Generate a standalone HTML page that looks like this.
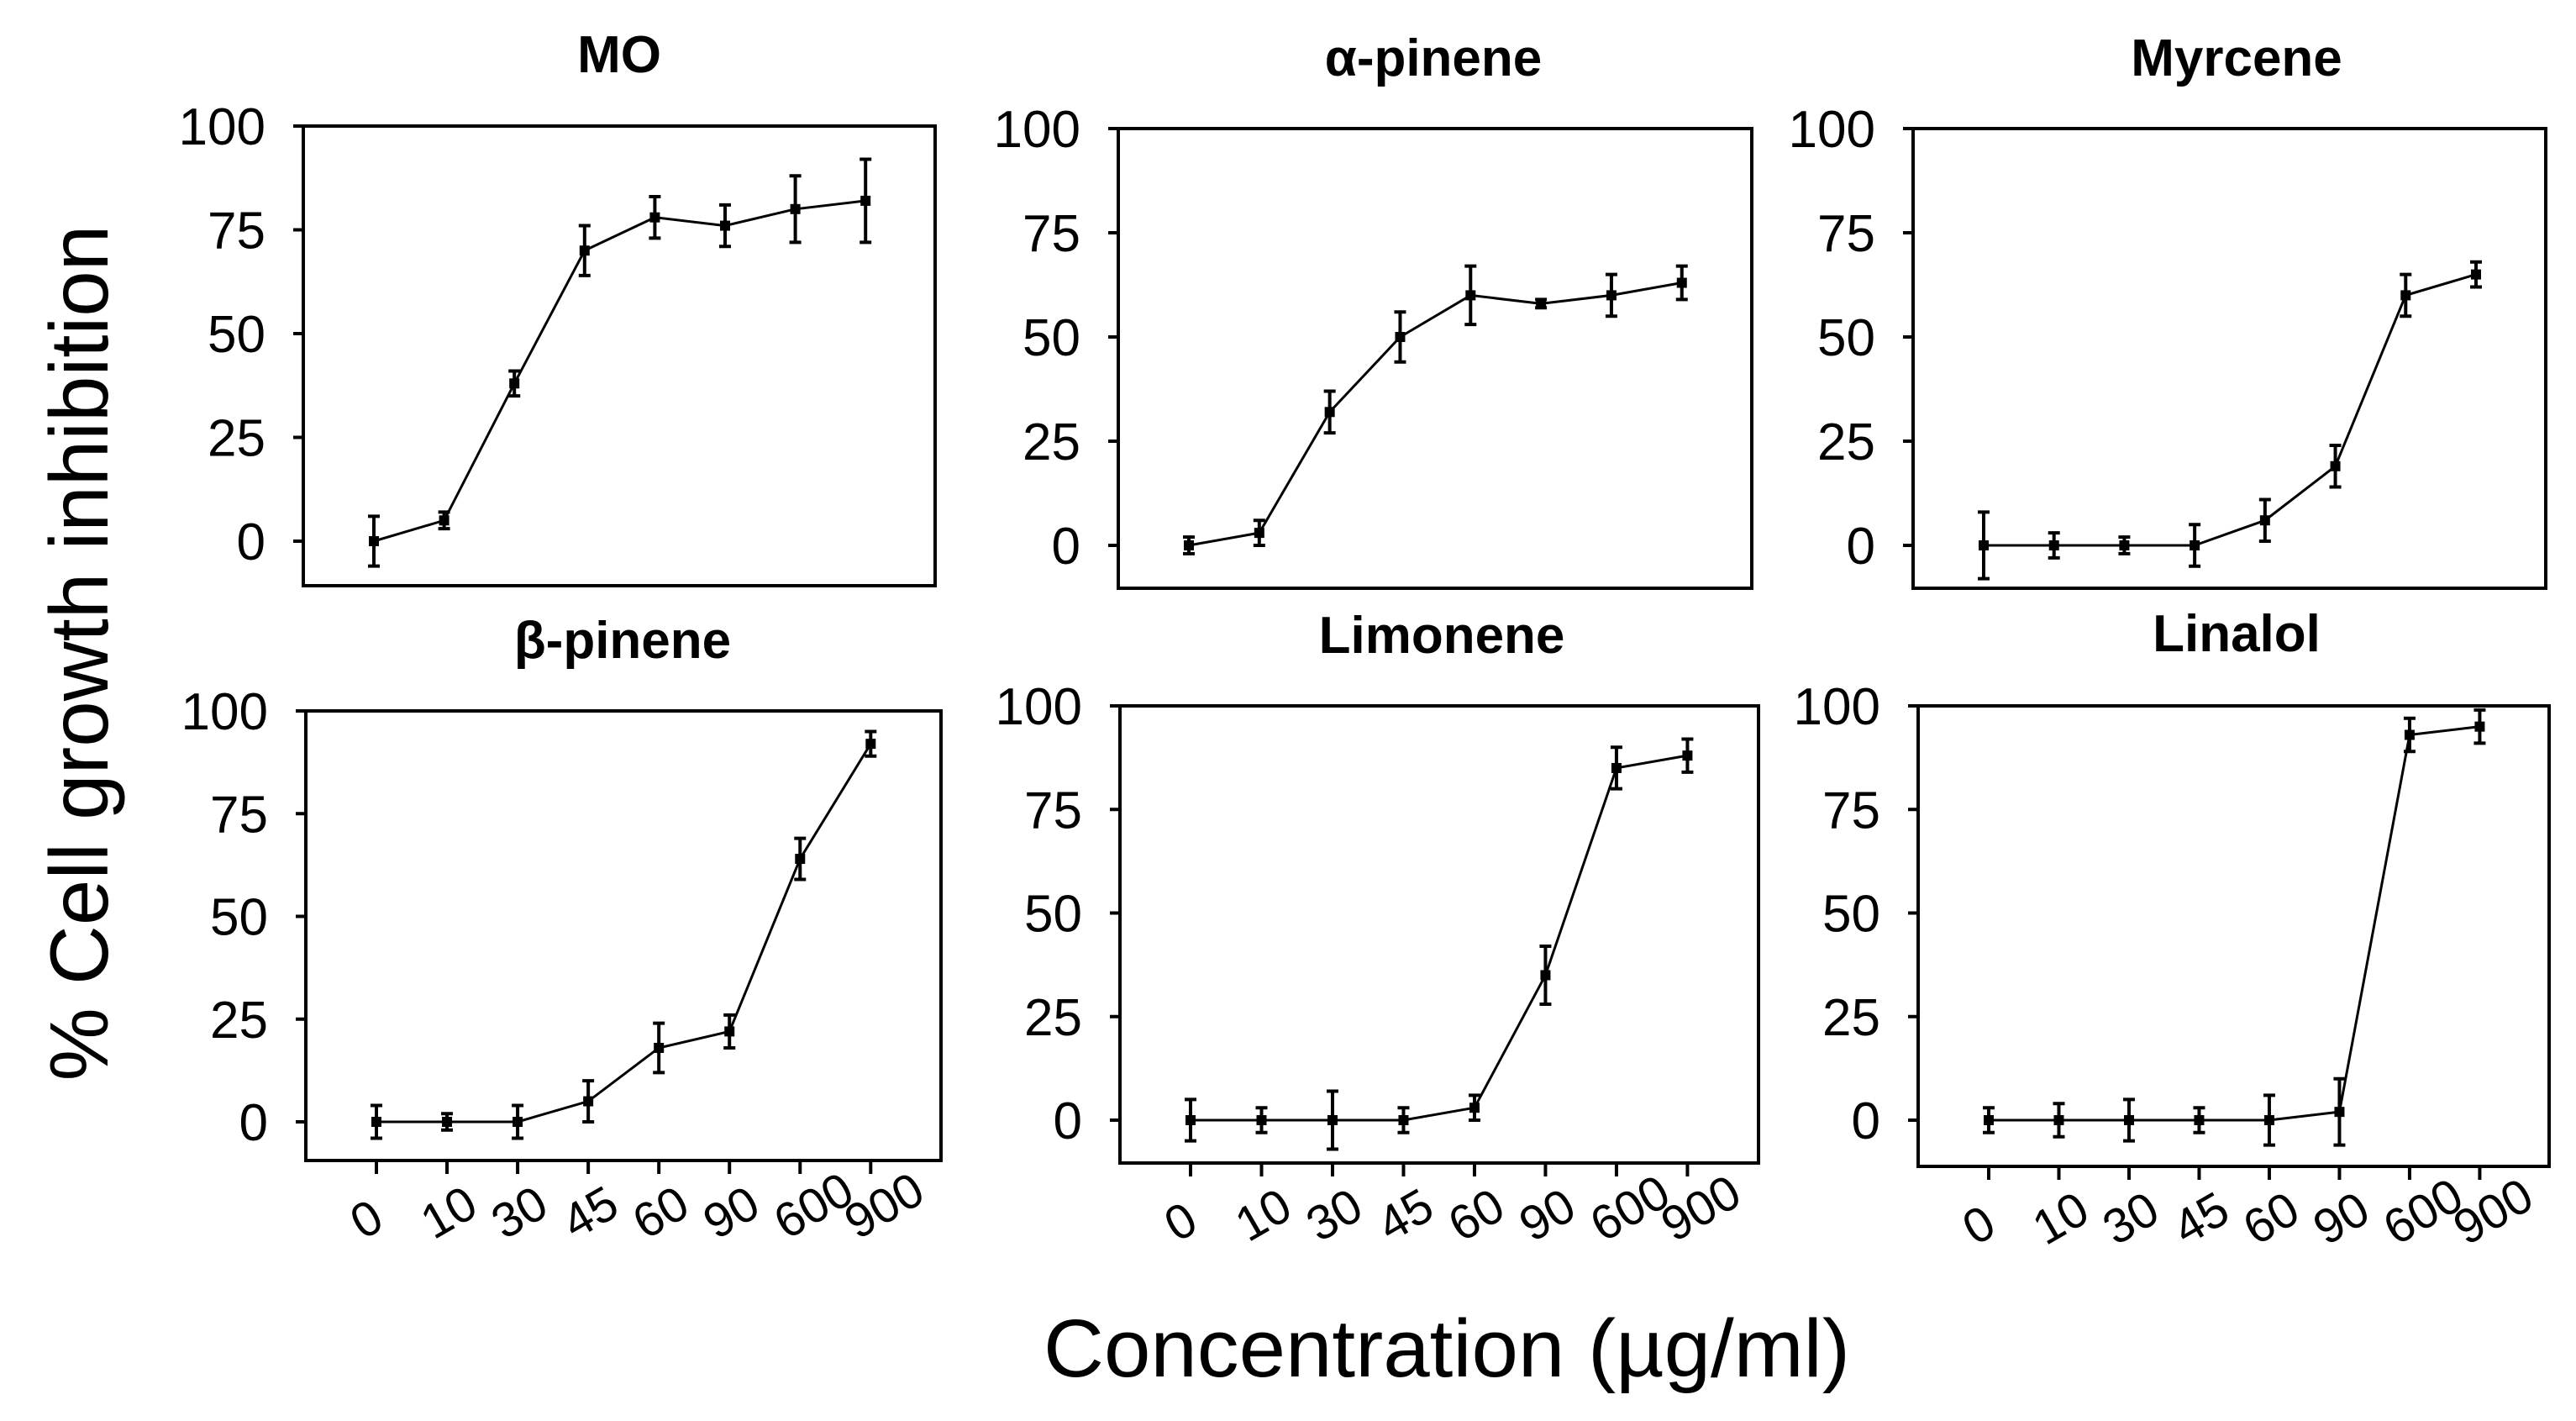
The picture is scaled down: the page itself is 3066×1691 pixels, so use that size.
<!DOCTYPE html>
<html><head><meta charset="utf-8"><style>
html,body{margin:0;padding:0;background:#fff;}
svg{display:block;font-family:"Liberation Sans",Arial,sans-serif;}
</style></head><body>
<svg id="fig" width="3066" height="1691" viewBox="0 0 3066 1691" xmlns="http://www.w3.org/2000/svg">
<text x="0" y="0" transform="translate(128,777) rotate(-90)" text-anchor="middle" font-size="98">% Cell growth inhibition</text>
<text x="1722" y="1638" text-anchor="middle" font-size="97" textLength="960" lengthAdjust="spacingAndGlyphs">Concentration (µg/ml)</text>
</svg>
<script>
const categories = ["0","10","30","45","60","90","600","900"];
const yTicks = [0,25,50,75,100];
const titles = ["MO","α-pinene","Myrcene","β-pinene","Limonene","Linalol"];
const moVals = [0,5,38,70,78,76,80,82];
const moErr = [6,2,3,6,5,5,8,10];
const apVals = [0,3,32,50,60,58,60,63];
const apErr = [2,3,5,6,7,1,5,4];
const myVals = [0,0,0,0,6,19,60,65];
const myErr = [8,3,2,5,5,5,5,3];
const bpVals = [0,0,0,5,18,22,64,92];
const bpErr = [4,2,4,5,6,4,5,3];
const liVals = [0,0,0,0,3,35,85,88];
const liErr = [5,3,7,3,3,7,5,4];
const laVals = [0,0,0,0,0,2,93,95];
const laErr = [3,4,5,3,6,8,4,4];
const seriesVals = [moVals,apVals,myVals,bpVals,liVals,laVals];
const seriesErr = [moErr,apErr,myErr,bpErr,liErr,laErr];

const NS="http://www.w3.org/2000/svg";
const svg=document.getElementById('fig');
const panels=[
 {l:361,t:150,y0:644,w:752,bottom:697,tx:737,ty:86,xt:false},
 {l:1331,t:153,y0:649,w:754,bottom:700,tx:1706,ty:90,xt:false},
 {l:2277,t:153,y0:649,w:753,bottom:700,tx:2662,ty:90,xt:false},
 {l:364,t:846,y0:1335,w:756,bottom:1381,tx:741,ty:783,xt:true},
 {l:1333,t:840,y0:1333,w:760,bottom:1384,tx:1716,ty:777,xt:true},
 {l:2283,t:840,y0:1333,w:751,bottom:1388,tx:2662,ty:775,xt:true}
];
function mk(tag,attrs,parent){const e=document.createElementNS(NS,tag);for(const k in attrs)e.setAttribute(k,attrs[k]);(parent||svg).appendChild(e);return e;}
panels.forEach((p,i)=>{
  const g=mk('g',{});
  
  
  const ys=v=>p.y0-(v/100)*(p.y0-p.t);
  const xs=j=>p.l+84+j*83.6*(p.w/752);
  const title=mk('text',{x:p.tx,y:p.ty,'text-anchor':'middle','font-size':62,'font-weight':'bold'},g);
  title.textContent=titles[i];
  
  
  const box=mk('rect',{x:p.l,y:p.t,width:p.w,height:p.bottom-p.t,fill:'none',stroke:'#000','stroke-width':4},g);
  
  
  yTicks.forEach(v=>{
    const y=ys(v);
    const tk=mk('line',{x1:p.l-12,x2:p.l,y1:y,y2:y,stroke:'#000','stroke-width':4},g);
    
    
    const lb=mk('text',{x:p.l-45,y:y+22,'text-anchor':'end','font-size':62},g);
    lb.textContent=String(v);
    
    
  });
  if(p.xt){
    categories.forEach((c,j)=>{
      const x=xs(j);
      const tk=mk('line',{x1:x,x2:x,y1:p.bottom,y2:p.bottom+16,stroke:'#000','stroke-width':4},g);
      
      
      const lb=mk('text',{x:0,y:0,'font-size':58,transform:`translate(${x-16},${p.bottom+95}) rotate(-30)`},g);
      lb.textContent=c;
      
      
    });
  }
  const vals=seriesVals[i], err=seriesErr[i];
  const pts=vals.map((v,j)=>xs(j)+','+ys(v)).join(' ');
  const line=mk('polyline',{points:pts,fill:'none',stroke:'#000','stroke-width':3},g);
  
  
  vals.forEach((v,j)=>{
    const x=xs(j),yl=ys(v-err[j]),yh=ys(v+err[j]);
    const eb=mk('path',{d:`M${x},${yl}V${yh}M${x-7},${yl}H${x+7}M${x-7},${yh}H${x+7}`,stroke:'#000','stroke-width':4,fill:'none'},g);
    
    
    const m=mk('rect',{x:x-6,y:ys(v)-6,width:12,height:12,fill:'#000'},g);
    
    
  });
});
</script>
</body></html>
